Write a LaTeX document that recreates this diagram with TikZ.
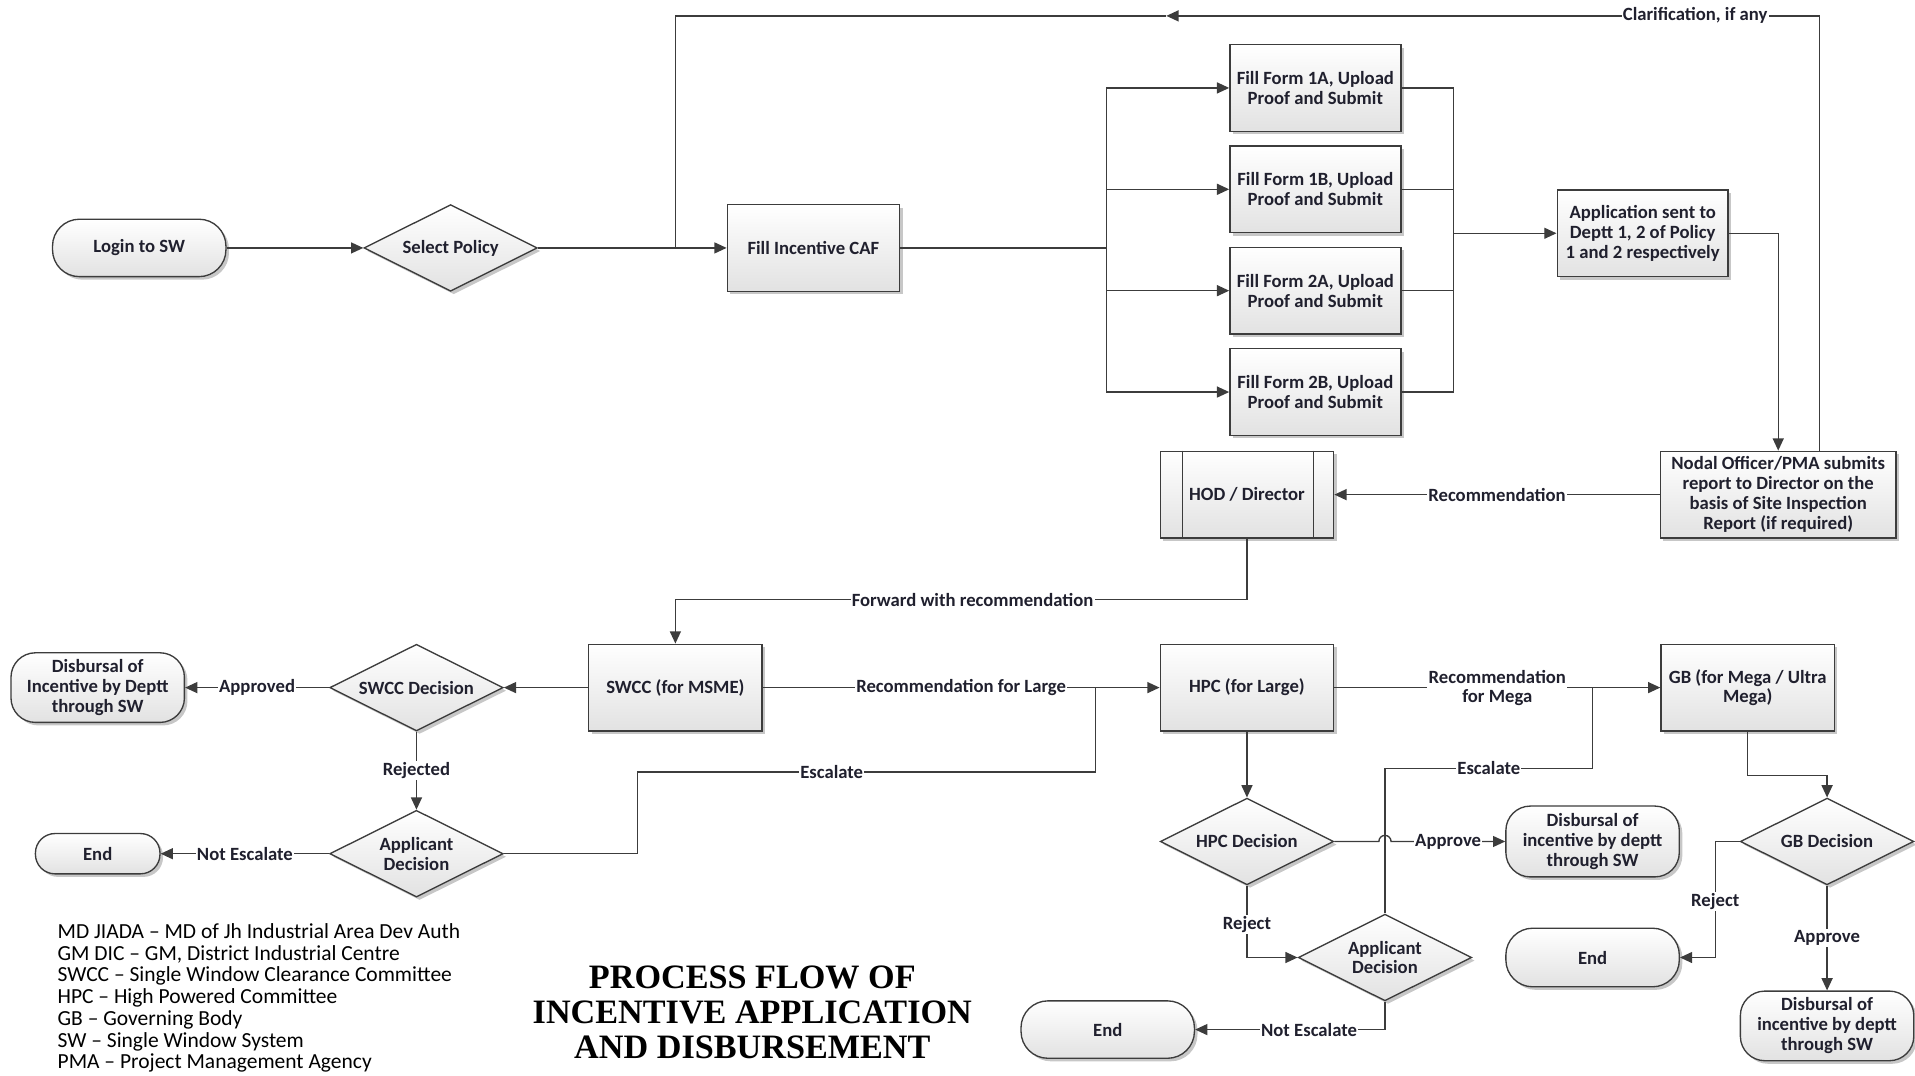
\documentclass[tikz,border=0pt]{standalone}
\usepackage{fontspec}
\setmainfont{Carlito}
\newfontfamily\titlefont{Liberation Serif}
\usetikzlibrary{shapes.geometric,arrows.meta,shadows,calc}
\definecolor{linec}{HTML}{3C3C3C}
\definecolor{txt}{HTML}{20202E}
\definecolor{boxg}{HTML}{E2E2E2}
\begin{document}
\begin{tikzpicture}[x=1pt,y=-1pt,
  base/.style={draw=linec, line width=1.1pt, top color=white, bottom color=boxg, text=txt,
    font=\bfseries\fontsize{15.3}{16.3}\selectfont, align=center, inner sep=1pt,
    drop shadow={shadow xshift=2.5pt, shadow yshift=-2.5pt, opacity=0.22, fill=black}},
  proc/.style={base, rectangle, minimum width=141pt, minimum height=71pt},
  term/.style={base, rectangle, rounded corners=22pt, minimum width=142pt, minimum height=47pt},
  dec/.style={base, diamond, aspect=2, minimum width=142pt, minimum height=71pt, inner sep=0pt},
  conn/.style={draw=linec, line width=1.1pt},
  arr/.style={conn, -{Triangle[length=10pt,width=9pt]}},
  elab/.style={fill=white, inner sep=1pt, text=txt, font=\bfseries\fontsize{15.3}{15.5}\selectfont, align=center}]
\useasboundingbox (0,0) rectangle (1568,881);

% nodes
\node[term] (login) at (114,203) {Login to SW};
\node[dec] (select) at (369,203) {Select Policy};
\node[proc] (caf) at (666,203) {Fill Incentive CAF};
\node[proc, minimum width=140pt] (f1a) at (1077,72) {Fill Form 1A, Upload\\Proof and Submit};
\node[proc, minimum width=140pt] (f1b) at (1077,155) {Fill Form 1B, Upload\\Proof and Submit};
\node[proc, minimum width=140pt] (f2a) at (1077,238) {Fill Form 2A, Upload\\Proof and Submit};
\node[proc, minimum width=140pt] (f2b) at (1077,321) {Fill Form 2B, Upload\\Proof and Submit};
\node[proc, minimum width=140pt] (app) at (1345,191) {Application sent to\\Deptt 1, 2 of Policy\\1 and 2 respectively};
\node[proc, minimum width=193pt] (nodal) at (1456,405) {Nodal Officer/PMA submits\\report to Director on the\\basis of Site Inspection\\Report (if required)};
\node[proc, minimum width=142pt] (hod) at (1021,405) {HOD / Director};
\draw[conn] ([xshift=19pt]hod.north west) -- ([xshift=19pt]hod.south west);
\draw[conn] ([xshift=-17pt]hod.north east) -- ([xshift=-17pt]hod.south east);
\node[proc, minimum width=142pt] (swcc) at (553,563) {SWCC (for MSME)};
\node[dec] (swccd) at (341,563) {SWCC Decision};
\node[term, rounded corners=20pt, minimum height=57pt] (disb1) at (80,563) {Disbursal of\\Incentive by Deptt\\through SW};
\node[dec] (app1) at (341,699) {Applicant\\Decision};
\node[term, rounded corners=16pt, minimum width=102pt, minimum height=33pt] (end1) at (80,699) {End};
\node[proc, minimum width=142pt] (hpc) at (1021,563) {HPC (for Large)};
\node[proc, minimum width=142pt] (gb) at (1431,563) {GB (for Mega / Ultra\\Mega)};
\node[dec] (hpcd) at (1021,689) {HPC Decision};
\node[term, rounded corners=20pt, minimum height=58pt] (disb2) at (1304,689) {Disbursal of\\incentive by deptt\\through SW};
\node[dec] (app2) at (1134,784) {Applicant\\Decision};
\node[term] (end2) at (907,843) {End};
\node[dec] (gbd) at (1496,689) {GB Decision};
\node[term, minimum height=48pt] (end3) at (1304,784) {End};
\node[term, rounded corners=20pt, minimum height=57pt] (disb3) at (1496,840) {Disbursal of\\incentive by deptt\\through SW};

% helper coordinates
\coordinate (j1) at (553,203);
\coordinate (clarx) at (1490,13);
\coordinate (clarmid) at (955,13);
\coordinate (bus1) at (906,203);
\coordinate (bus2) at (1190,191);
\coordinate (esc1a) at (522,632);
\coordinate (esc1b) at (897,563);
\coordinate (esc2a) at (1304,629);
\coordinate (esc2b) at (1304,563);

% connectors
\draw[arr] (login) -- (select);
\draw[arr] (select) -- (caf);
\draw[arr] (nodal.north -| clarx) |- (clarmid);
\draw[conn] (clarmid) -| (j1);
\node[elab] (clarlab) at (1388,13) {Clarification, if any};

\draw[conn] (caf) -- (bus1);
\foreach \f in {f1a,f1b,f2a,f2b} {
  \draw[arr] (bus1) |- (\f.west);
  \draw[conn] (\f.east) -| (bus2);
}
\draw[arr] (bus2) -- (app.west);
\draw[arr] (app.east) -| (nodal.north);
\draw[arr] (nodal) -- node[elab]{Recommendation} (hod);
\draw[arr] (hod.south) |- node[elab,pos=0.74]{Forward with recommendation} ($(swcc.north)+(0,-36)$) -- (swcc.north);

\draw[arr] (swcc) -- (swccd);
\draw[arr] (swccd) -- node[elab]{Approved} (disb1);
\draw[arr] (swccd) -- node[elab]{Rejected} (app1);
\draw[arr] (app1) -- node[elab]{Not Escalate} (end1);
\draw[conn] (app1.east) -| (esc1a) -| (esc1b);
\node[elab] (esclab1) at (681,632) {Escalate};
\draw[arr] (swcc) -- node[elab]{Recommendation for Large} (hpc);
\draw[arr] (hpc) -- node[elab]{Recommendation\\for Mega} (gb);
\draw[arr] (hpc) -- (hpcd);
\draw[arr] (hpcd.east) -- ($(app2.center |- hpcd.east)+(-5,0)$) arc[start angle=180,end angle=360,radius=5] -- node[elab]{Approve} (disb2.west);
\draw[arr] (hpcd.south) |- node[elab,pos=0.27]{Reject} (app2.west);
\draw[conn] (app2.north) |- node[elab,pos=0.75]{Escalate} (esc2a) -- (esc2b);
\draw[arr] (app2.south) |- node[elab,pos=0.7]{Not Escalate} (end2.east);
\draw[arr] (gb.south) -- ++(0,36) -| (gbd.north);
\draw[arr] (gbd.west) -- ++(-20,0) |- node[elab,pos=0.26]{Reject} (end3.east);
\draw[arr] (gbd) -- node[elab]{Approve} (disb3);

% legend and title
\node[anchor=north west, align=left, text=black, inner sep=0pt,
  font=\fontsize{17.6}{17.8}\selectfont] (legend) at (47,756)
  {MD JIADA – MD of Jh Industrial Area Dev Auth\\
   GM DIC – GM, District Industrial Centre\\
   SWCC – Single Window Clearance Committee\\
   HPC – High Powered Committee\\
   GB – Governing Body\\
   SW – Single Window System\\
   PMA – Project Management Agency};
\node[align=center, text=black, font=\titlefont\bfseries\fontsize{28}{28.5}\selectfont] (title) at (616,829)
  {PROCESS FLOW OF\\INCENTIVE APPLICATION\\AND DISBURSEMENT};
\end{tikzpicture}
\end{document}
